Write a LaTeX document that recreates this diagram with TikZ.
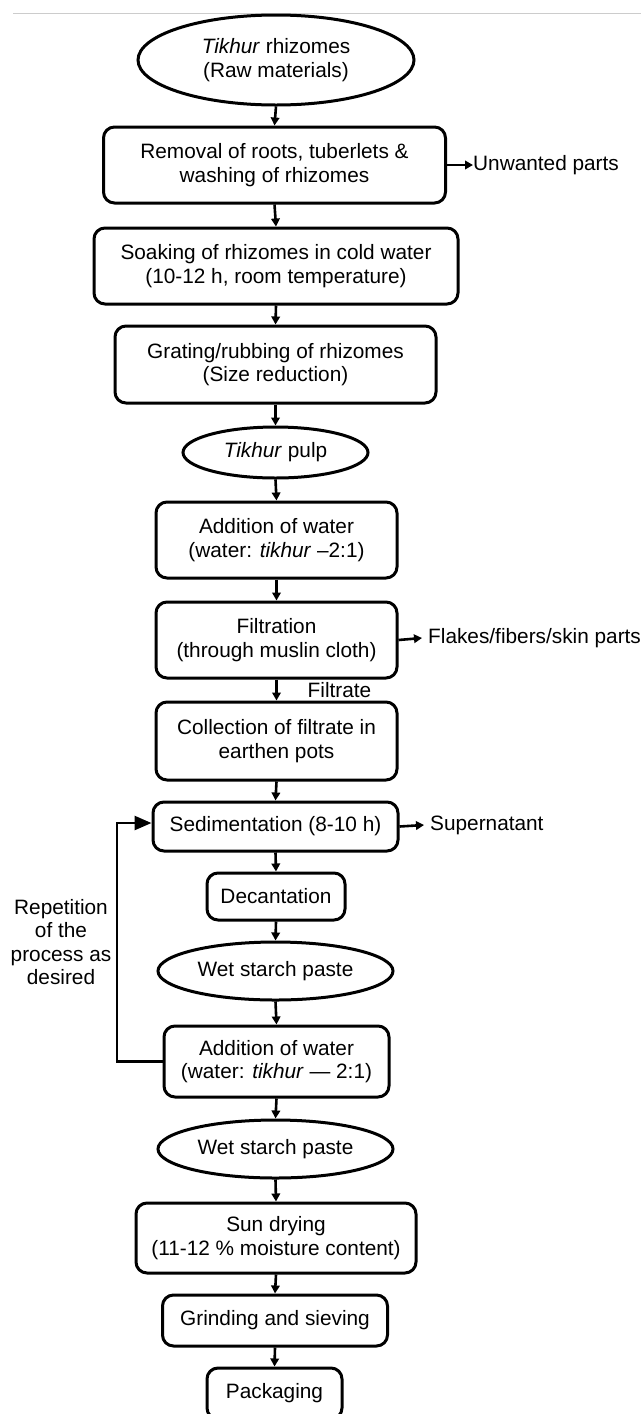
\documentclass[tikz,border=0pt]{standalone}
\usepackage{fontspec}
\setmainfont{Liberation Sans}
\usetikzlibrary{shapes.geometric,arrows.meta}
\begin{document}
\begin{tikzpicture}[x=1pt,y=-1pt,
  every node/.style={font=\fontsize{20.8}{23.3}\selectfont, inner sep=0pt, align=center},
  box/.style={draw, rounded corners=11pt, line width=3pt},
  oval/.style={draw, ellipse, line width=3pt},
  arr/.style={line width=2.6pt, -{Triangle[length=8pt,width=8.5pt]}},
  bigarr/.style={line width=2.6pt, -{Triangle[length=17pt,width=14pt]}}]
\useasboundingbox (0,0) rectangle (641,1414);
\clip (0,0) rectangle (641,1414);
\fill[white] (0,0) rectangle (641,1414);
\draw[black!20, line width=1pt] (13,13) -- (641,13);

\node[oval, minimum width=276pt, minimum height=90pt] (e1) at (276,60) {\textit{Tikhur} rhizomes\\(Raw materials)};
\node[box, minimum width=342pt, minimum height=76pt] (b1) at (274.5,165) {Removal of roots, tuberlets \&\\washing of rhizomes};
\node[box, minimum width=364pt, minimum height=76pt] (b2) at (276,266) {Soaking of rhizomes in cold water\\(10-12 h, room temperature)};
\node[box, minimum width=321pt, minimum height=77pt] (b3) at (275.5,364.5) {Grating/rubbing of rhizomes\\(Size reduction)};
\node[oval, minimum width=185pt, minimum height=51pt] (e2) at (275.5,452.5) {\textit{Tikhur} pulp};
\node[box, minimum width=241pt, minimum height=76pt] (b4) at (276.5,540) {Addition of water\\(water: \textit{tikhur} –2:1)};
\node[box, minimum width=241pt, minimum height=76pt] (b5) at (276.5,640) {Filtration\\(through muslin cloth)};
\node[box, minimum width=241pt, minimum height=78pt] (b6) at (276.5,741) {Collection of filtrate in\\earthen pots};
\node[box, minimum width=245pt, minimum height=49pt] (b7) at (275.5,826.5) {Sedimentation (8-10 h)};
\node[box, minimum width=138pt, minimum height=47pt] (b8) at (276,896.5) {Decantation};
\node[oval, minimum width=235pt, minimum height=58pt] (e3) at (275.5,971) {Wet starch paste};
\node[box, minimum width=225pt, minimum height=71pt] (b9) at (276.5,1061.5) {Addition of water\\(water: \textit{tikhur} — 2:1)};
\node[oval, minimum width=235pt, minimum height=58pt] (e4) at (275.5,1149) {Wet starch paste};
\node[box, minimum width=280pt, minimum height=70pt] (b10) at (276,1238) {Sun drying\\(11-12 \% moisture content)};
\node[box, minimum width=225pt, minimum height=51pt] (b11) at (275,1320.5) {Grinding and sieving};
\node[box, minimum width=135pt, minimum height=51pt] (b12) at (274.5,1393.5) {Packaging};

\node[anchor=west] (t1) at (473,165) {Unwanted parts};
\node[anchor=west] (t2) at (428,638) {Flakes/fibers/skin parts};
\node[anchor=west] (t3) at (430,825) {Supernatant};
\node (t4) at (339.5,690) {Filtrate};
\node (t5) at (61,942) {Repetition\\of the\\process as\\desired};

\draw[arr] (e1.south) -- (b1.north);
\draw[arr] (b1.south) -- (b2.north);
\draw[arr] (b2.south) -- (b3.north);
\draw[arr] (b3.south) -- (e2.north);
\draw[arr] (e2.south) -- (b4.north);
\draw[arr] (b4.south) -- (b5.north);
\draw[arr] (b5.south) -- (b6.north);
\draw[arr] (b6.south) -- (b7.north);
\draw[arr] (b7.south) -- (b8.north);
\draw[arr] (b8.south) -- (e3.north);
\draw[arr] (e3.south) -- (b9.north);
\draw[arr] (b9.south) -- (e4.north);
\draw[arr] (e4.south) -- (b10.north);
\draw[arr] (b10.south) -- (b11.north);
\draw[arr] (b11.south) -- (b12.north);

\draw[arr] (b1.east) -- (t1.west);
\draw[arr] (b5.east) -- ([xshift=-6pt]t2.west);
\draw[arr] (b7.east) -- ([xshift=-6pt]t3.west);

\coordinate (c1) at (117,1061.5);
\coordinate (c2) at (117,823);
\draw[bigarr] (b9.west) -- (c1) -- (c2) -- (c2 -| b7.west);
\end{tikzpicture}
\end{document}
